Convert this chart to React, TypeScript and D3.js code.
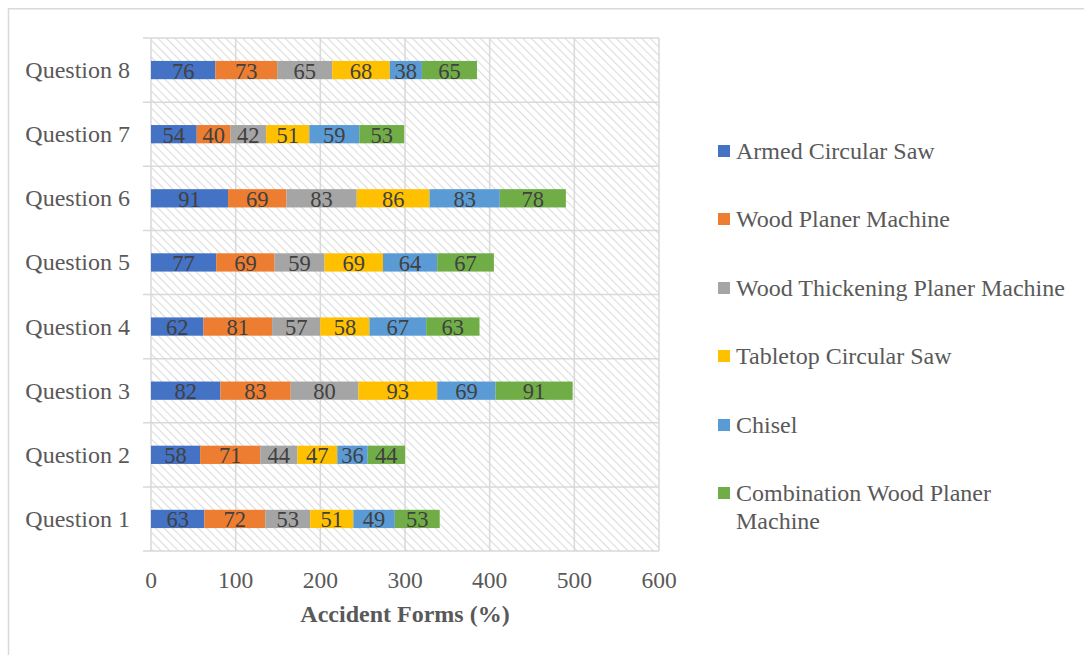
import React from "react";
import * as d3 from "d3";

const categories = ["Question 1", "Question 2", "Question 3", "Question 4", "Question 5", "Question 6", "Question 7", "Question 8"];
const seriesNames = [
  "Armed Circular Saw",
  "Wood Planer Machine",
  "Wood Thickening Planer Machine",
  "Tabletop Circular Saw",
  "Chisel",
  "Combination Wood Planer Machine",
];
const seriesColors = ["#4472C4", "#ED7D31", "#A5A5A5", "#FFC000", "#5B9BD5", "#70AD47"];
const armedCircularSaw = [63, 58, 82, 62, 77, 91, 54, 76];
const woodPlaner = [72, 71, 83, 81, 69, 69, 40, 73];
const thickeningPlaner = [53, 44, 80, 57, 59, 83, 42, 65];
const tabletopSaw = [51, 47, 93, 58, 69, 86, 51, 68];
const chisel = [49, 36, 69, 67, 64, 83, 59, 38];
const combinationPlaner = [53, 44, 91, 63, 67, 78, 53, 65];
const xTicks = [0, 100, 200, 300, 400, 500, 600];

const seriesValues = [armedCircularSaw, woodPlaner, thickeningPlaner, tabletopSaw, chisel, combinationPlaner];

const FONT = "Liberation Serif, Times New Roman, DejaVu Serif, serif";
const TEXT = "#595959";
const LABEL = "#404040";
const GRID = "#d9d9d9";
const txt = { fontFamily: FONT };

export default function App() {
  const left = 151, right = 659, top = 38, bottom = 551;
  const x = d3.scaleLinear().domain([0, 600]).range([left, right]);
  const y = d3.scaleBand<string>().domain([...categories].reverse()).range([top, bottom]).padding(0);
  const barH = y.bandwidth() * 0.285;

  const rows = categories.map((c, i) => {
    const obj: Record<string, number | string> = { cat: c };
    seriesNames.forEach((s, k) => (obj[s] = seriesValues[k][i]));
    return obj;
  });
  const stacked = d3.stack<Record<string, number | string>>().keys(seriesNames)(rows as any);

  const legendY = [151, 219, 288, 356, 425, 493];

  return (
    <svg width={1084} height={655} style={{ position: "absolute", left: 0, top: 0 }}>
      <defs>
        <pattern id="hatch" width={6} height={6} patternUnits="userSpaceOnUse" patternTransform="rotate(-45)">
          <rect width={6} height={6} fill="#ffffff" />
          <line x1={0} y1={0} x2={0} y2={6} stroke="#dcdcdc" strokeWidth={2.2} />
        </pattern>
      </defs>
      <rect x={0} y={0} width={1084} height={655} fill="#ffffff" />
      <rect x={8.5} y={8.75} width={1200} height={800} fill="none" stroke={GRID} strokeWidth={1.5} />

      {/* plot background */}
      <rect x={left} y={top} width={right - left} height={bottom - top} fill="url(#hatch)" />

      {/* vertical gridlines */}
      {xTicks.map((t) => (
        <line key={"v" + t} x1={x(t)} x2={x(t)} y1={top} y2={bottom} stroke={GRID} strokeWidth={1.5} />
      ))}
      {/* horizontal gridlines at category boundaries, extended as ticks */}
      {d3.range(categories.length + 1).map((i) => {
        const yy = top + i * y.step();
        return <line key={"h" + i} x1={left - 8} x2={right} y1={yy} y2={yy} stroke={GRID} strokeWidth={1.5} />;
      })}

      {/* stacked bars */}
      {stacked.map((layer, k) => (
        <g key={layer.key}>
          {layer.map((d, i) => {
            const cy = (y(categories[i]) as number) + y.bandwidth() / 2;
            const x0 = x(d[0]);
            const x1 = x(d[1]);
            return (
              <g key={i}>
                <rect x={x0} y={cy - barH / 2} width={x1 - x0} height={barH} fill={seriesColors[k]} />
                <text x={(x0 + x1) / 2} y={cy + 8.5} textAnchor="middle" fontSize={22.5} fill={LABEL} style={txt}>
                  {d[1] - d[0]}
                </text>
              </g>
            );
          })}
        </g>
      ))}

      {/* category labels */}
      {categories.map((c) => (
        <text key={c} x={130} y={(y(c) as number) + y.bandwidth() / 2 + 8} textAnchor="end" fontSize={24} fill={TEXT} style={txt}>
          {c}
        </text>
      ))}

      {/* x tick labels */}
      {xTicks.map((t) => (
        <text key={"t" + t} x={x(t)} y={588} textAnchor="middle" fontSize={23.5} fill={TEXT} style={txt}>
          {t}
        </text>
      ))}
      <text x={(left + right) / 2} y={622} textAnchor="middle" fontSize={24} fontWeight="bold" fill={TEXT} style={txt}>
        Accident Forms (%)
      </text>

      {/* legend */}
      {seriesNames.map((s, k) => {
        const cy = legendY[k];
        const wrap = k === 5;
        return (
          <g key={s}>
            <rect x={718} y={cy - 6} width={12} height={12} fill={seriesColors[k]} />
            {wrap ? (
              <text x={736} y={cy + 8} fontSize={24} fill={TEXT} style={txt}>
                <tspan x={736}>Combination Wood Planer</tspan>
                <tspan x={736} dy={28}>Machine</tspan>
              </text>
            ) : (
              <text x={736} y={cy + 8} fontSize={24} fill={TEXT} style={txt}>
                {s}
              </text>
            )}
          </g>
        );
      })}
    </svg>
  );
}
